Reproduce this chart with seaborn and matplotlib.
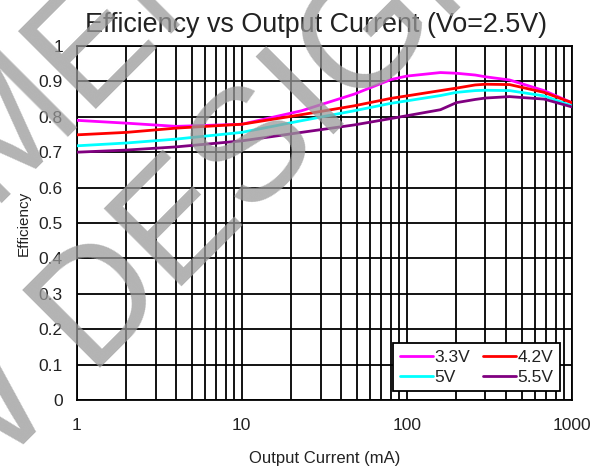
import matplotlib
matplotlib.use("Agg")
import matplotlib.pyplot as plt
import matplotlib.ticker as mticker
import pandas as pd
import seaborn as sns

# values
current = [1, 2, 4, 10, 23, 48, 80, 100, 160, 200, 260, 300, 420, 680, 1000]
eff_33 = [0.790, 0.782, 0.773, 0.779, 0.817, 0.864, 0.905, 0.915, 0.925, 0.923, 0.918, 0.913, 0.904, 0.874, 0.840]
eff_42 = [0.749, 0.756, 0.768, 0.779, 0.806, 0.831, 0.852, 0.859, 0.874, 0.881, 0.890, 0.892, 0.891, 0.869, 0.840]
eff_50 = [0.718, 0.726, 0.737, 0.756, 0.789, 0.817, 0.838, 0.845, 0.860, 0.869, 0.874, 0.875, 0.874, 0.859, 0.831]
eff_55 = [0.700, 0.706, 0.715, 0.732, 0.756, 0.777, 0.795, 0.803, 0.820, 0.840, 0.849, 0.853, 0.857, 0.850, 0.828]

labels = ["3.3V", "4.2V", "5V", "5.5V"]
colors = {"3.3V": "#ff00ff", "4.2V": "#ff0000", "5V": "#00ffff", "5.5V": "#800080"}

df = pd.concat([
    pd.DataFrame({"current": current, "eff": e, "vin": lab})
    for lab, e in zip(labels, [eff_33, eff_42, eff_50, eff_55])
])

sns.set_style("white")
plt.rcParams["font.family"] = ["Liberation Sans", "DejaVu Sans"]

fig = plt.figure(figsize=(6.05, 4.67), dpi=100)
ax = fig.add_axes([0.127, 0.1435, 0.818, 0.758])

sns.lineplot(data=df, x="current", y="eff", hue="vin",
             hue_order=["3.3V", "5V", "4.2V", "5.5V"], palette=colors,
             linewidth=2, ax=ax, zorder=3)

ax.set_xscale("log")
ax.set_xlim(1, 1000)
ax.set_ylim(0, 1)
ax.set_xticks([1, 10, 100, 1000], labels=["1", "10", "100", "1000"])
ax.xaxis.set_minor_locator(mticker.LogLocator(base=10, subs=range(2, 10)))
ax.xaxis.set_minor_formatter(mticker.NullFormatter())
yt = [i / 10 for i in range(11)]
ax.set_yticks(yt, labels=["0"] + [f"{v:.1f}" for v in yt[1:-1]] + ["1"])
ax.tick_params(which="both", length=0, labelsize=12.5, colors="#222222")
ax.tick_params(axis="x", pad=13)
ax.tick_params(axis="y", pad=10)
ax.grid(which="both", color="black", linewidth=1.3)
for s in ax.spines.values():
    s.set_color("black")
    s.set_linewidth(1.3)

ax.set_title("Efficiency vs Output Current (Vo=2.5V)", fontsize=19.4, color="#222222",
             pad=10, x=0.484)
ax.set_xlabel("Output Current (mA)", fontsize=12, color="#222222", labelpad=13)
ax.set_ylabel("Efficiency", fontsize=11, color="#222222", labelpad=6)

leg = ax.legend(ncol=2, loc="lower right", bbox_to_anchor=(0.976, 0.025),
                borderaxespad=0, fontsize=12.5,
                frameon=True, fancybox=False, edgecolor="black", framealpha=1,
                handlelength=1.9, handletextpad=0.1, columnspacing=0.75,
                labelspacing=0.3, borderpad=0.35)
leg.get_frame().set_linewidth(1.3)
for t in leg.get_texts():
    t.set_color("#222222")

# watermark, one line at a time
wm = dict(rotation=45, rotation_mode="anchor", ha="center", va="baseline",
          fontsize=115, color="#9a9a9a", alpha=0.75, zorder=10)
fig.text(-106 / 605, 1 - 312 / 467, "NOT RECOMMENDED", **wm)
fig.text(25 / 605, 1 - 443 / 467, "FOR NEW DESIGN", **wm)

fig.savefig("out.png", dpi=100)
